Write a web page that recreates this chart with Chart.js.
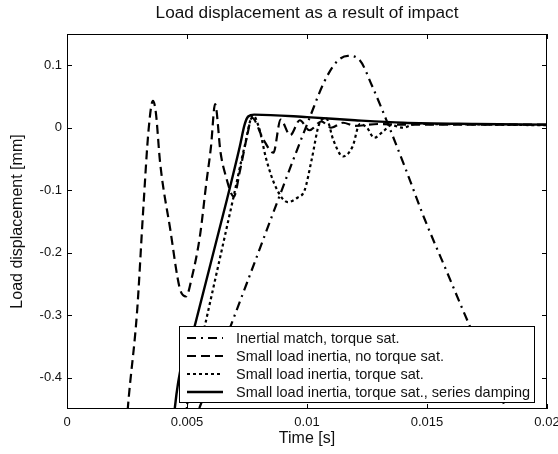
<!DOCTYPE html>
<html lang="en">
<head>
<meta charset="UTF-8">
<title>Load displacement as a result of impact</title>
<script src="https://cdn.jsdelivr.net/npm/chart.js"></script>
<style>
  html, body { margin: 0; padding: 0; background: #fff; }
  canvas { display: block; }
</style>
</head>
<body>
<canvas id="impactChart" width="558" height="454"></canvas>
<script>
  const FONT = "'Liberation Sans', Arial, Helvetica, sans-serif";

  const xTicks = [0, 0.005, 0.01, 0.015, 0.02];
  const yTicks = [-0.4, -0.3, -0.2, -0.1, 0, 0.1];

  const seriesNames = [
    'Inertial match, torque sat.',
    'Small load inertia, no torque sat.',
    'Small load inertia, torque sat.',
    'Small load inertia, torque sat., series damping'
  ];

  // time [s] / displacement [mm] per simulation
  const tInertial = [0.0052, 0.00554, 0.0062, 0.0068, 0.0075, 0.00875, 0.0095, 0.0101, 0.0107, 0.0112, 0.0117,
                     0.0122, 0.0127, 0.0133, 0.0141, 0.0149, 0.0158, 0.0167, 0.0175, 0.01825, 0.0186];
  const yInertial = [-0.48, -0.446, -0.379, -0.319, -0.248, -0.12, -0.044, 0.015, 0.072, 0.104, 0.115,
                     0.108, 0.068, 0.013, -0.065, -0.146, -0.228, -0.31, -0.38, -0.446, -0.48];

  const tNoSat = [0.0024, 0.00254, 0.00292, 0.00317, 0.0034, 0.00358, 0.0037, 0.00388, 0.0043, 0.0047, 0.00496,
                  0.0052, 0.00554, 0.0058, 0.006, 0.00617, 0.0064, 0.0066, 0.00695, 0.0072, 0.0075, 0.0077,
                  0.0082, 0.0086, 0.0089, 0.0093, 0.0097, 0.0101, 0.0106, 0.011, 0.0115, 0.012, 0.013, 0.014, 0.016, 0.02];
  const yNoSat = [-0.52, -0.446, -0.294, -0.135, -0.003, 0.043, 0.025, -0.056, -0.162, -0.257, -0.27,
                  -0.24, -0.173, -0.09, -0.03, 0.038, -0.04, -0.075, -0.11, -0.07, -0.014, 0.016,
                  -0.02, -0.04, 0.013, -0.012, 0.012, -0.004, 0.01, 0.0, 0.008, 0.003, 0.006, 0.005, 0.005, 0.005];

  const tSat = [0.0049, 0.005, 0.00575, 0.00692, 0.0074, 0.00775, 0.008, 0.0083, 0.0087, 0.0092, 0.0096,
                0.0099, 0.0102, 0.0105, 0.0108, 0.0111, 0.0115, 0.0119, 0.0122, 0.0125, 0.0128, 0.0132,
                0.0135, 0.014, 0.0145, 0.02];
  const ySat = [-0.5, -0.446, -0.316, -0.114, -0.03, 0.02, 0.0, -0.05, -0.095, -0.119, -0.112,
                -0.1, -0.05, 0.005, 0.015, -0.02, -0.046, -0.03, 0.006, 0.0, -0.016, -0.005,
                0.004, 0.0, 0.006, 0.004];

  const tDamped = [0.0044, 0.0045, 0.00533, 0.00667, 0.0072, 0.0074, 0.00755, 0.0078, 0.01, 0.012, 0.014, 0.017, 0.02];
  const yDamped = [-0.5, -0.446, -0.316, -0.114, -0.03, 0.005, 0.018, 0.021, 0.017, 0.012, 0.008, 0.006, 0.005];

  const pts = (t, v) => t.map((x, i) => ({ x: x, y: v[i] }));
  const fmt = v => String(Math.round(v * 1000) / 1000);

  const lineStyle = (dash, width) => ({
    borderColor: '#000',
    borderWidth: width,
    borderDash: dash,
    borderCapStyle: 'butt',
    pointRadius: 0,
    fill: false,
    cubicInterpolationMode: 'monotone'
  });

  // axes frame with inward ticks on all sides, legend box and title
  const matlabFrame = {
    id: 'matlabFrame',
    afterDatasetsDraw(chart) {
      const { ctx, chartArea: a, scales: { x, y } } = chart;
      ctx.save();
      ctx.strokeStyle = '#000';
      ctx.lineWidth = 1;
      ctx.setLineDash([]);
      ctx.strokeRect(a.left + 0.5, a.top + 0.5, a.right - a.left - 1, a.bottom - a.top - 1);
      ctx.beginPath();
      xTicks.forEach(v => {
        const px = Math.round(x.getPixelForValue(v)) + 0.5;
        ctx.moveTo(px, a.bottom); ctx.lineTo(px, a.bottom - 5);
        ctx.moveTo(px, a.top); ctx.lineTo(px, a.top + 5);
      });
      yTicks.forEach(v => {
        const py = Math.round(y.getPixelForValue(v)) + 0.5;
        ctx.moveTo(a.left, py); ctx.lineTo(a.left + 5, py);
        ctx.moveTo(a.right, py); ctx.lineTo(a.right - 5, py);
      });
      ctx.stroke();

      // legend
      const lx = a.left + 112, ly = a.top + 292, lw = 355, lh = 76;
      ctx.fillStyle = '#fff';
      ctx.fillRect(lx, ly, lw, lh);
      ctx.strokeRect(lx + 0.5, ly + 0.5, lw, lh);
      ctx.font = '14.5px ' + FONT;
      ctx.textBaseline = 'middle';
      ctx.textAlign = 'left';
      chart.data.datasets.forEach((ds, i) => {
        const cy = ly + 12 + i * 18;
        ctx.beginPath();
        ctx.lineWidth = ds.borderWidth;
        ctx.lineCap = 'butt';
        ctx.setLineDash(ds.borderDash);
        ctx.moveTo(lx + 8, cy);
        ctx.lineTo(lx + 44, cy);
        ctx.stroke();
        ctx.fillStyle = '#111';
        ctx.fillText(ds.label, lx + 57, cy + 0.5);
      });

      // title
      ctx.font = '17.2px ' + FONT;
      ctx.textAlign = 'center';
      ctx.fillStyle = '#111';
      ctx.fillText('Load displacement as a result of impact', (a.left + a.right) / 2, 13);
      ctx.restore();
    }
  };

  new Chart(document.getElementById('impactChart'), {
    type: 'line',
    data: {
      datasets: [
        { label: seriesNames[0], data: pts(tInertial, yInertial), ...lineStyle([9, 5, 2, 5], 2.2) },
        { label: seriesNames[1], data: pts(tNoSat, yNoSat), ...lineStyle([9, 5], 2.2) },
        { label: seriesNames[2], data: pts(tSat, ySat), ...lineStyle([3, 3], 2.2) },
        { label: seriesNames[3], data: pts(tDamped, yDamped), ...lineStyle([], 2.4) }
      ]
    },
    options: {
      responsive: false,
      animation: false,
      devicePixelRatio: 1,
      layout: { padding: { top: 34, right: 11, left: 0, bottom: 0 } },
      plugins: {
        legend: { display: false },
        title: { display: false },
        tooltip: { enabled: false }
      },
      scales: {
        x: {
          type: 'linear',
          min: 0,
          max: 0.02,
          afterBuildTicks: s => { s.ticks = xTicks.map(v => ({ value: v })); },
          afterFit: s => { s.height = 45; s.paddingLeft = 0; s.paddingRight = 0; },
          grid: { display: false, drawTicks: false },
          border: { display: false },
          ticks: { callback: v => fmt(v), color: '#111', padding: 6, maxRotation: 0, autoSkip: false,
                   font: { family: FONT, size: 13 } },
          title: { display: true, text: 'Time [s]', color: '#111', font: { family: FONT, size: 16 },
                   padding: { top: 0, bottom: 6 } }
        },
        y: {
          type: 'linear',
          min: -0.45,
          max: 0.15,
          afterBuildTicks: s => { s.ticks = yTicks.map(v => ({ value: v })); },
          afterFit: s => { s.width = 67; s.paddingTop = 0; s.paddingBottom = 0; },
          grid: { display: false, drawTicks: false },
          border: { display: false },
          ticks: { callback: v => fmt(v), color: '#111', padding: 5, autoSkip: false,
                   font: { family: FONT, size: 13 } },
          title: { display: true, text: 'Load displacement [mm]', color: '#111', font: { family: FONT, size: 16 },
                   padding: { top: 8, bottom: 0 } }
        }
      }
    },
    plugins: [matlabFrame]
  });
</script>
</body>
</html>
